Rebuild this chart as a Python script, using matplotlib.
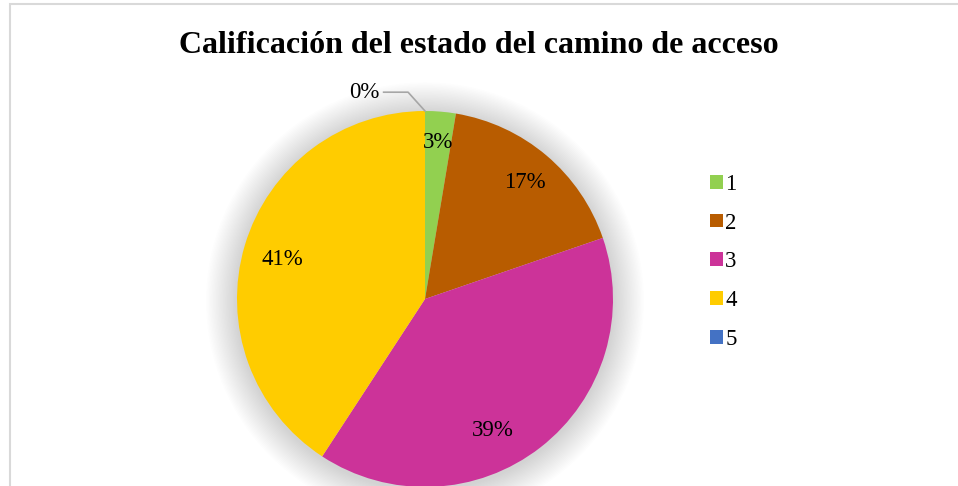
import matplotlib
matplotlib.use("Agg")
import matplotlib.pyplot as plt
import numpy as np
from matplotlib.patches import Circle, Rectangle

categories = ["1", "2", "3", "4", "5"]
counts = [2, 13, 30, 31, 0]
colors = ["#92D050", "#B85C00", "#CC3399", "#FFCC00", "#4472C4"]
title = "Calificación del estado del camino de acceso"

plt.rcParams["font.family"] = ["Liberation Serif", "DejaVu Serif"]

W, H = 958, 486
fig = plt.figure(figsize=(W / 100, H / 100), dpi=100)

# border (only top and left show in the crop)
fig.patches.append(Rectangle((9.5 / W, -0.1), 1.2, (H - 4.5) / H + 0.1,
                             transform=fig.transFigure, fill=False,
                             edgecolor="#d9d9d9", linewidth=1.5))

# pie axes: center (425, 299) px, radius 188 px
cx, cy, r = 425, 299, 188
lim = 1.2
half = r * lim
ax = fig.add_axes([(cx - half) / W, (H - cy - half) / H, 2 * half / W, 2 * half / H])

# soft shadow
for i in range(22):
    rr = 1.0 + 0.0075 * (i + 1)
    ax.add_patch(Circle((0, -0.012), rr, color="#000000", alpha=0.0065, lw=0, zorder=0))

wedges, texts, autotexts = ax.pie(
    counts, colors=colors, startangle=90, counterclock=False, radius=1,
    autopct=lambda p: f"{p:.0f}%", pctdistance=0.8,
    wedgeprops=dict(linewidth=0), textprops=dict(fontsize=16.5, color="#000000"),
)
for w in wedges:
    w.set_zorder(2)
ax.set_xlim(-lim, lim)
ax.set_ylim(-lim, lim)
ax.set_aspect("equal")
ax.axis("off")

# label tweaks to mimic best-fit placement
autotexts[0].set_position((0.07, 0.83))
autotexts[1].set_position((0.53, 0.62))
autotexts[2].set_position((0.36, -0.70))
autotexts[3].set_position((-0.76, 0.21))
# zero slice label outside with leader line
autotexts[4].set_position((-0.24, 1.1))
autotexts[4].set_ha("right")
ax.plot([-0.22, -0.09, 0.0], [1.1, 1.1, 1.0], color="#a6a6a6", lw=1.2, zorder=3)

fig.text(0.5, 0.907, title, ha="center", va="center", fontsize=23, fontweight="bold")

leg = fig.legend(wedges, categories, loc="center left", bbox_to_anchor=(0.720, 0.461),
                 frameon=False, fontsize=16.5, handlelength=0.55, handleheight=0.55,
                 handletextpad=0.1, labelspacing=0.78)

fig.savefig("out.png", dpi=100)
